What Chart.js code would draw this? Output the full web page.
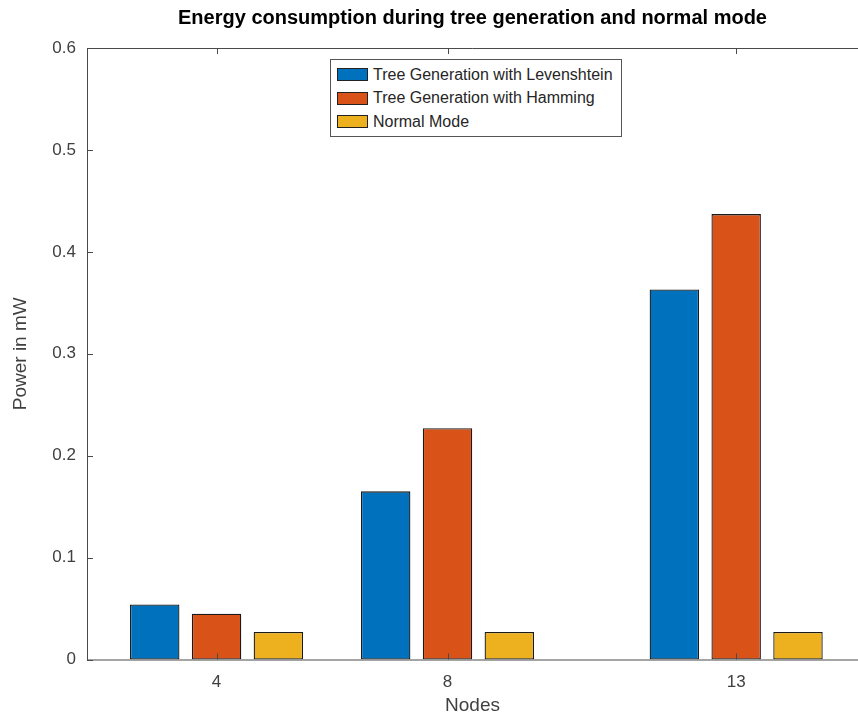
<!DOCTYPE html>
<html>
<head>
<meta charset="utf-8">
<script src="https://cdn.jsdelivr.net/npm/chart.js@4.4.0/dist/chart.umd.min.js"></script>
<style>
    html, body { margin: 0; padding: 0; background: #fff; }
    #wrap { position: relative; width: 858px; height: 715px; overflow: hidden; }
    #chart-legend {
        position: absolute; left: 330px; top: 59px; width: 290px; height: 73px;
        border: 1px solid #555; background: #fff; padding-top: 3px; box-sizing: content-box;
        font-family: "Liberation Sans", Arial, sans-serif; font-size: 16px; color: #262626;
    }
    .legend-item { height: 23.5px; display: flex; align-items: center; padding-left: 6px; white-space: nowrap; }
    .legend-color-box { width: 29px; height: 11px; border: 1px solid #222; margin-right: 5px; flex: none; }
</style>
</head>
<body>
<div id="wrap">
    <canvas id="power-chart" width="858" height="715"></canvas>
    <div id="chart-legend"></div>
</div>
<script>
// Số node (trục x dạng số, giống MATLAB)
const nodes = [4, 8, 13];
const seriesNames = ['Tree Generation with Levenshtein', 'Tree Generation with Hamming', 'Normal Mode'];
const levValues = [0.054, 0.165, 0.363];
const hamValues = [0.045, 0.227, 0.437];
const normalValues = [0.027, 0.027, 0.027];
const yTicks = [0, 0.1, 0.2, 0.3, 0.4, 0.5, 0.6];
const colors = ['#0072BD', '#D95319', '#EDB120'];

const AXIS_COLOR = '#4a4a4a';
const FONT = 'Liberation Sans';

// Vẽ khung kiểu MATLAB: đường trên, tick hướng vào trong
const matlabBox = {
    id: 'matlabBox',
    afterDraw(chart) {
        const { ctx, chartArea: a, scales } = chart;
        ctx.save();
        ctx.strokeStyle = AXIS_COLOR;
        ctx.lineWidth = 1;
        ctx.beginPath();
        ctx.moveTo(a.left + 0.5, a.bottom + 0.5);
        ctx.lineTo(a.left + 0.5, a.top + 0.5);
        ctx.lineTo(a.right, a.top + 0.5);
        ctx.moveTo(a.left, a.bottom + 0.5);
        ctx.lineTo(a.right, a.bottom + 0.5);
        nodes.forEach(n => {
            const x = Math.round(scales.x.getPixelForValue(n)) + 0.5;
            ctx.moveTo(x, a.bottom); ctx.lineTo(x, a.bottom - 6);
            ctx.moveTo(x, a.top); ctx.lineTo(x, a.top + 6);
        });
        yTicks.forEach(v => {
            const y = Math.round(scales.y.getPixelForValue(v)) + 0.5;
            ctx.moveTo(a.left, y); ctx.lineTo(a.left + 6, y);
        });
        ctx.stroke();
        ctx.restore();
    }
};

function makeDataset(label, values, color) {
    return {
        label: label,
        data: nodes.map((n, i) => ({ x: n, y: values[i] })),
        backgroundColor: color,
        borderColor: '#1a1a1a',
        borderWidth: 1.3,
        borderSkipped: false,
        categoryPercentage: 0.803,
        barPercentage: 0.8
    };
}

const ctx = document.getElementById('power-chart').getContext('2d');
const powerChart = new Chart(ctx, {
    type: 'bar',
    data: {
        datasets: [
            makeDataset(seriesNames[0], levValues, colors[0]),
            makeDataset(seriesNames[1], hamValues, colors[1]),
            makeDataset(seriesNames[2], normalValues, colors[2])
        ]
    },
    options: {
        responsive: false,
        animation: false,
        layout: { padding: 0 },
        plugins: {
            legend: { display: false }, // legend tự tạo bằng HTML
            tooltip: { enabled: false },
            title: {
                display: true,
                fullSize: false, // canh giữa theo vùng vẽ như MATLAB
                text: 'Energy consumption during tree generation and normal mode',
                color: '#000',
                font: { family: FONT, size: 20, weight: 'bold' },
                padding: { top: 6.5, bottom: 17.5 }
            }
        },
        scales: {
            x: {
                type: 'linear',
                offset: false,
                min: 1.756,
                max: 15.11,
                grid: { display: false, drawTicks: false },
                border: { display: false },
                afterBuildTicks: scale => { scale.ticks = nodes.map(v => ({ value: v })); },
                afterFit: scale => { scale.height = 55.5; },
                ticks: {
                    color: '#404040',
                    padding: 13,
                    font: { family: FONT, size: 17 },
                    callback: v => String(v)
                },
                title: {
                    display: true,
                    text: 'Nodes',
                    color: '#404040',
                    font: { family: FONT, size: 19 },
                    padding: { top: 0, bottom: -2.5 }
                }
            },
            y: {
                min: 0,
                max: 0.6,
                grid: { display: false, drawTicks: false },
                border: { display: false },
                afterBuildTicks: scale => { scale.ticks = yTicks.map(v => ({ value: v })); },
                afterFit: scale => { scale.width = 87; },
                ticks: {
                    color: '#404040',
                    padding: 11,
                    font: { family: FONT, size: 17 },
                    callback: v => String(Math.round(v * 10) / 10)
                },
                title: {
                    display: true,
                    text: 'Power in mW',
                    color: '#404040',
                    font: { family: FONT, size: 19 },
                    padding: { top: 9.6, bottom: 0 }
                }
            }
        }
    },
    plugins: [matlabBox]
});

// Chú thích tùy chỉnh
document.getElementById('chart-legend').innerHTML = powerChart.data.datasets.map(ds => `
    <div class="legend-item">
        <div class="legend-color-box" style="background-color: ${ds.backgroundColor};"></div>
        <span>${ds.label}</span>
    </div>
`).join('');
</script>
</body>
</html>
